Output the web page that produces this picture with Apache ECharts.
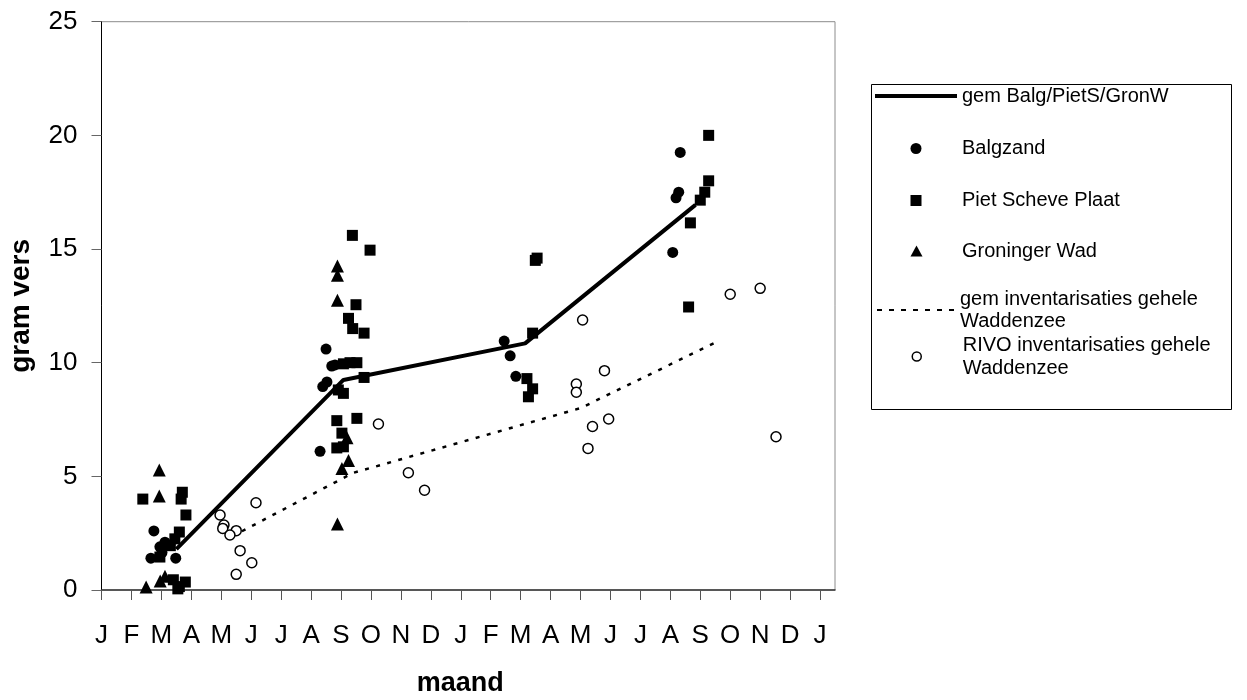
<!DOCTYPE html>
<html>
<head>
<meta charset="utf-8">
<script src="https://cdn.jsdelivr.net/npm/echarts@6/dist/echarts.min.js"></script>
<style>html,body{margin:0;padding:0;background:#fff}#c{width:1247px;height:700px}</style>
</head>
<body>
<div id="c"></div>
<script>
// ---- data (x in months from January of year 1, y in gram vers) ----
const monthLabels = ['J','F','M','A','M','J','J','A','S','O','N','D','J','F','M','A','M','J','J','A','S','O','N','D','J'];
const seriesNames = ['gem Balg/PietS/GronW','Balgzand','Piet Scheve Plaat','Groninger Wad','gem inventarisaties gehele Waddenzee','RIVO inventarisaties gehele Waddenzee'];
const legendLabels = ['gem Balg/PietS/GronW','Balgzand','Piet Scheve Plaat','Groninger Wad','gem inventarisaties gehele\nWaddenzee','RIVO inventarisaties gehele\nWaddenzee'];
const xTitle = 'maand';
const yTitle = 'gram vers';

const gemBalg = [[2.5,1.8],[8.08,9.24],[14.15,10.85],[19.84,16.94]];
const balgzand = [
 [1.75,2.6],[1.65,1.4],[2.48,1.4],[1.95,1.9],[2.12,2.1],[2.02,1.65],
 [7.5,10.6],[7.69,9.85],[7.8,9.9],[7.39,8.95],[7.53,9.15],[7.3,6.1],
 [13.45,10.95],[13.65,10.3],[13.84,9.4],
 [19.33,19.25],[19.28,17.5],[19.19,17.25],[19.08,14.85]
];
const pietScheve = [
 [1.38,4.0],[2.7,4.3],[2.66,4.0],[2.82,3.3],[2.6,2.55],[2.45,2.25],[2.3,1.95],[1.95,1.45],
 [2.4,0.45],[2.6,0.15],[2.8,0.35],[2.55,0.05],
 [8.38,15.6],[8.97,14.95],[8.5,12.55],[8.25,11.95],[8.39,11.5],[8.77,11.3],
 [8.08,9.95],[8.3,10.0],[8.53,10.0],[8.77,9.35],[7.91,8.8],[8.08,8.65],
 [7.86,7.45],[8.53,7.55],[8.03,6.9],[7.86,6.25],[8.08,6.3],
 [14.49,14.5],[14.55,14.6],[14.4,11.3],[14.21,9.3],[14.4,8.85],[14.26,8.5],
 [20.28,20.0],[20.28,18.0],[20.15,17.5],[20.0,17.15],[19.67,16.15],[19.61,12.45]
];
const groningerWad = [
 [1.49,0.13],[1.93,5.28],[1.93,4.13],[1.96,0.4],[2.12,0.6],
 [7.88,14.25],[7.88,13.85],[7.88,12.75],[8.2,6.7],[8.25,5.7],[8.03,5.35],[7.88,2.9]
];
const gemInventarisaties = [[4.35,2.35],[8.4,5.15],[16.0,8.0],[20.6,10.95]];
const rivo = [
 [3.96,3.3],[4.09,2.86],[4.05,2.71],[4.5,2.61],[4.29,2.42],[4.63,1.73],[5.02,1.2],[4.5,0.69],[5.16,3.84],
 [9.25,7.3],[10.25,5.16],[10.79,4.39],
 [16.07,11.88],[16.8,9.65],[15.86,9.06],[15.86,8.7],[16.94,7.52],[16.4,7.19],[16.25,6.23],
 [21.0,13.01],[22.0,13.27],[22.53,6.74]
];

// ---- chart ----
const FONT = "'Liberation Sans', Arial, sans-serif";
const tickValues = monthLabels.map((m, i) => i);
const labelOf = Object.fromEntries(seriesNames.map((n, i) => [n, legendLabels[i]]));
const fmt = n => labelOf[n];

function dashPath(n, dash, gap, h) {
  let p = '';
  for (let i = 0; i < n; i++) p += 'M' + (i * (dash + gap)) + ' 0h' + dash + 'v' + h + 'h-' + dash + 'z';
  return 'path://' + p;
}

const legendBase = {
  orient: 'vertical', padding: 0, selectedMode: false, formatter: fmt,
  textStyle: { fontFamily: FONT, fontSize: 20, color: '#000' }
};

const chart = echarts.init(document.getElementById('c'), null, { renderer: 'canvas' });
chart.setOption({
  animation: false,
  backgroundColor: '#fff',
  grid: { left: 101.5, top: 21.7, width: 733.5, height: 568.3, show: true, borderColor: '#8c8c8c', borderWidth: 1,
    backgroundColor: 'transparent', containLabel: false, outerBoundsMode: 'none' },
  xAxis: {
    type: 'value', min: 0, max: 24.5, interval: 1,
    name: xTitle, nameLocation: 'middle', nameGap: 80,
    nameTextStyle: { fontFamily: FONT, fontSize: 27, fontWeight: 'bold', color: '#000', padding: [0, 16, 0, 0] },
    axisLine: { show: true, lineStyle: { color: '#333', width: 1.5 } },
    axisTick: { show: true, inside: false, length: 10, customValues: tickValues, lineStyle: { color: '#555', width: 1 } },
    axisLabel: { customValues: tickValues, margin: 33, fontFamily: FONT, fontSize: 26, color: '#000',
      formatter: v => (Number.isInteger(v) && monthLabels[v] !== undefined) ? monthLabels[v] : '' },
    splitLine: { show: false }
  },
  yAxis: {
    type: 'value', min: 0, max: 25, interval: 5,
    name: yTitle, nameLocation: 'middle', nameGap: 66,
    nameTextStyle: { fontFamily: FONT, fontSize: 28, fontWeight: 'bold', color: '#000' },
    axisLine: { show: true, lineStyle: { color: '#000', width: 1 } },
    axisTick: { show: true, inside: false, length: 10, lineStyle: { color: '#666', width: 1 } },
    axisLabel: { margin: 24, fontFamily: FONT, fontSize: 26, color: '#000' },
    splitLine: { show: false }
  },
  legend: [
    Object.assign({}, legendBase, { left: 875, top: 86, itemWidth: 82, itemHeight: 4,
      data: [{ name: seriesNames[0], icon: 'rect', itemStyle: { color: '#000', borderWidth: 0 } }] }),
    Object.assign({}, legendBase, { left: 910.5, top: 138.5, itemWidth: 11, itemHeight: 11,
      data: [{ name: seriesNames[1], textStyle: { padding: [0, 0, 0, 35.5] } }] }),
    Object.assign({}, legendBase, { left: 910.5, top: 190.5, itemWidth: 11, itemHeight: 11,
      data: [{ name: seriesNames[2], textStyle: { padding: [0, 0, 0, 35.5] } }] }),
    Object.assign({}, legendBase, { left: 910.5, top: 241, itemWidth: 12, itemHeight: 11,
      data: [{ name: seriesNames[3], textStyle: { padding: [0, 0, 0, 34.5] } }] }),
    Object.assign({}, legendBase, { left: 877, top: 277, itemWidth: 77, itemHeight: 2,
      data: [{ name: seriesNames[4], icon: dashPath(7, 5, 7, 2), itemStyle: { color: '#000', borderWidth: 0 },
        textStyle: { lineHeight: 22, padding: [22, 0, 0, 1] } }] }),
    Object.assign({}, legendBase, { left: 911.5, top: 322, itemWidth: 9, itemHeight: 9,
      data: [{ name: seriesNames[5], icon: 'circle', itemStyle: { color: '#fff', borderColor: '#000', borderWidth: 1.5 },
        textStyle: { lineHeight: 23, padding: [23, 0, 0, 36.5] } }] })
  ],
  graphic: [{ type: 'rect', left: 869, top: 82, shape: { width: 360, height: 325 },
    style: { fill: 'none', stroke: '#000', lineWidth: 1 }, silent: true, z: 100 }],
  series: [
    { name: seriesNames[0], type: 'line', data: gemBalg, symbol: 'none', showSymbol: false, z: 2,
      lineStyle: { color: '#000', width: 4 }, itemStyle: { color: '#000' } },
    { name: seriesNames[1], type: 'scatter', data: balgzand, symbol: 'circle', symbolSize: 11, z: 3,
      itemStyle: { color: '#000', opacity: 1 } },
    { name: seriesNames[2], type: 'scatter', data: pietScheve, symbol: 'rect', symbolSize: 11, z: 3,
      itemStyle: { color: '#000', opacity: 1 } },
    { name: seriesNames[3], type: 'scatter', data: groningerWad, symbol: 'triangle', symbolSize: 13, z: 3,
      itemStyle: { color: '#000', opacity: 1 } },
    { name: seriesNames[4], type: 'line', data: gemInventarisaties, symbol: 'none', showSymbol: false, z: 2,
      lineStyle: { color: '#000', width: 2.5, type: [4, 7.5] }, itemStyle: { color: '#000' } },
    { name: seriesNames[5], type: 'scatter', data: rivo, symbol: 'circle', symbolSize: 10, z: 3,
      itemStyle: { color: '#fff', borderColor: '#000', borderWidth: 1.5, opacity: 1 } }
  ]
});
</script>
</body>
</html>
